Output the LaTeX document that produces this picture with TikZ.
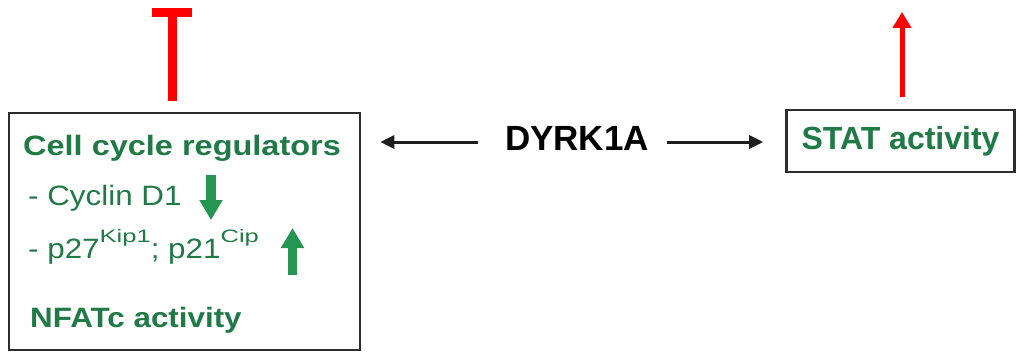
\documentclass[tikz,border=0pt]{standalone}
\usepackage{fontspec}
\setmainfont{Liberation Sans}
\newfontfamily\boxfont[FakeStretch=1.12]{Liberation Sans}
\newfontfamily\widefont[FakeStretch=1.16]{Liberation Sans}
\newfontfamily\supfont[FakeStretch=1.42]{Liberation Sans}
\usetikzlibrary{arrows.meta,calc}
\definecolor{txtgreen}{RGB}{31,122,69}
\definecolor{arrgreen}{RGB}{36,150,82}
\definecolor{boxgray}{RGB}{45,45,45}
\definecolor{arrgray}{RGB}{30,30,30}
\begin{document}
\begin{tikzpicture}[x=1pt,y=-1pt,
  box/.style={draw=boxgray,line width=2.6pt,inner sep=0pt},
  greenbold/.style={text=txtgreen,font={\boxfont\bfseries\fontsize{28}{30}\selectfont},anchor=base west,inner sep=0pt},
  greenreg/.style={text=txtgreen,font={\boxfont\fontsize{28}{30}\selectfont},anchor=base west,inner sep=0pt},
  conn/.style={draw=arrgray,line width=3pt,-{Triangle[length=14pt,width=13pt]}},
  tbar/.style={draw=red,line width=9pt,-{Bar[width=40pt]}},
  act/.style={draw=red,line width=5pt,-{Triangle[length=16pt,width=18pt]}},
  fatarrow/.style={draw=arrgreen,line width=9.5pt,-{Triangle[length=20pt,width=22pt]}}]
\useasboundingbox (0,0) rectangle (1016,353);
\node[box,minimum width=351pt,minimum height=237pt] (cellbox) at (184.5,231.5) {};
\node[greenbold,font={\widefont\bfseries\fontsize{28}{30}\selectfont}] (ccr) at (23,155) {Cell cycle regulators};
\node[greenreg] (cyc) at (28,205) {- Cyclin D1};
\node[greenreg] (pkip) at (28,258) {- p27\raisebox{16pt}{\supfont\fontsize{18}{18}\selectfont Kip1}; p21\raisebox{16pt}{\supfont\fontsize{18}{18}\selectfont Cip}};
\node[greenbold] (nfat) at (30,327) {NFATc activity};
\node[font={\bfseries\fontsize{35}{40}\selectfont},anchor=base,inner sep=0pt] (dyrk) at (577,150) {DYRK1A};
\node[box,minimum width=228pt,minimum height=62pt,text=txtgreen,font={\bfseries\fontsize{32}{34}\selectfont}] (stat) at (900.5,141) {STAT activity};
\coordinate (ay) at (0,142);
\draw[conn,shorten <=26.5pt,shorten >=19pt] (dyrk.west |- ay) -- (cellbox.east |- ay);
\draw[conn,shorten <=17.5pt,shorten >=22pt] (dyrk.east |- ay) -- (stat.west |- ay);
\coordinate (ttop) at (172,8.5);
\draw[tbar,shorten <=11pt] (ttop |- cellbox.north) -- (ttop);
\coordinate (atop) at (902,12);
\draw[act,shorten <=12pt] (atop |- stat.north) -- (atop);
\draw[fatarrow] (211,175) -- (211,220);
\draw[fatarrow] (292.5,275) -- (292.5,228);
\end{tikzpicture}
\end{document}
